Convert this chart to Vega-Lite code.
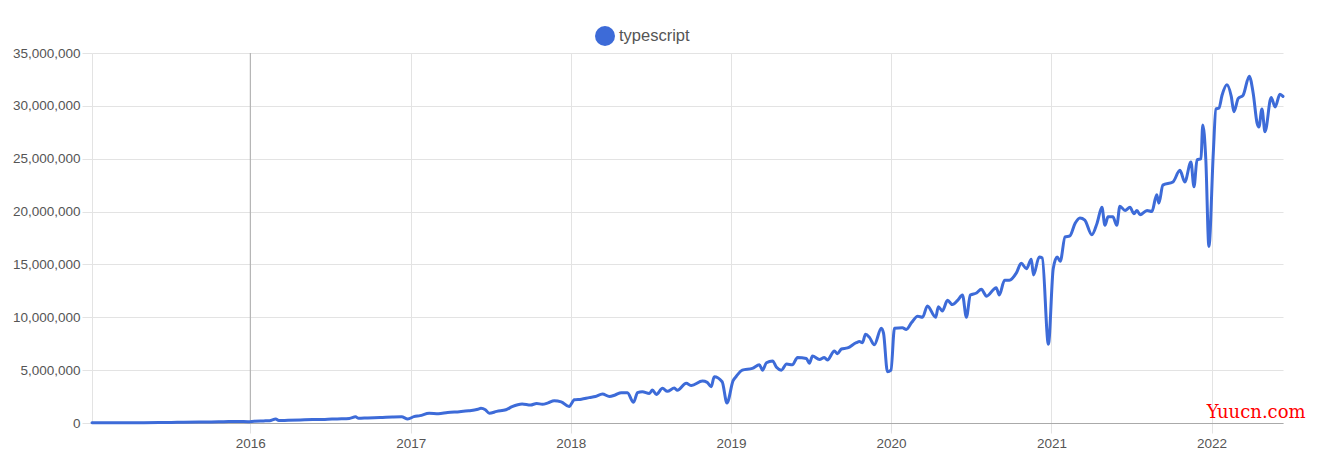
{
  "$schema": "https://vega.github.io/schema/vega-lite/v6.json",
  "width": 1191,
  "height": 370,
  "autosize": {"type": "none"},
  "padding": {"left": 92, "top": 53, "right": 34, "bottom": 43},
  "background": "white",
  "config": {
    "view": {"stroke": null},
    "font": "Liberation Sans"
  },
  "datasets": {
    "downloads": [
      {"date": "2015-01-05", "package": "typescript", "downloads": 15000},
      {"date": "2015-02-01", "package": "typescript", "downloads": 18000},
      {"date": "2015-03-01", "package": "typescript", "downloads": 22000},
      {"date": "2015-04-05", "package": "typescript", "downloads": 28000},
      {"date": "2015-05-03", "package": "typescript", "downloads": 35000},
      {"date": "2015-06-07", "package": "typescript", "downloads": 45000},
      {"date": "2015-07-05", "package": "typescript", "downloads": 55000},
      {"date": "2015-08-02", "package": "typescript", "downloads": 65000},
      {"date": "2015-09-06", "package": "typescript", "downloads": 85000},
      {"date": "2015-10-04", "package": "typescript", "downloads": 105000},
      {"date": "2015-11-01", "package": "typescript", "downloads": 125000},
      {"date": "2015-12-06", "package": "typescript", "downloads": 150000},
      {"date": "2015-12-27", "package": "typescript", "downloads": 130000},
      {"date": "2016-01-10", "package": "typescript", "downloads": 170000},
      {"date": "2016-01-31", "package": "typescript", "downloads": 200000},
      {"date": "2016-02-14", "package": "typescript", "downloads": 220000},
      {"date": "2016-02-28", "package": "typescript", "downloads": 380000},
      {"date": "2016-03-06", "package": "typescript", "downloads": 230000},
      {"date": "2016-03-27", "package": "typescript", "downloads": 260000},
      {"date": "2016-04-24", "package": "typescript", "downloads": 290000},
      {"date": "2016-05-22", "package": "typescript", "downloads": 320000},
      {"date": "2016-06-19", "package": "typescript", "downloads": 340000},
      {"date": "2016-07-17", "package": "typescript", "downloads": 390000},
      {"date": "2016-08-14", "package": "typescript", "downloads": 430000},
      {"date": "2016-08-28", "package": "typescript", "downloads": 580000},
      {"date": "2016-09-04", "package": "typescript", "downloads": 440000},
      {"date": "2016-09-25", "package": "typescript", "downloads": 480000},
      {"date": "2016-10-23", "package": "typescript", "downloads": 510000},
      {"date": "2016-11-20", "package": "typescript", "downloads": 560000},
      {"date": "2016-12-11", "package": "typescript", "downloads": 580000},
      {"date": "2016-12-25", "package": "typescript", "downloads": 380000},
      {"date": "2017-01-08", "package": "typescript", "downloads": 600000},
      {"date": "2017-01-22", "package": "typescript", "downloads": 700000},
      {"date": "2017-02-12", "package": "typescript", "downloads": 920000},
      {"date": "2017-03-05", "package": "typescript", "downloads": 880000},
      {"date": "2017-03-26", "package": "typescript", "downloads": 1000000},
      {"date": "2017-04-22", "package": "typescript", "downloads": 1070000},
      {"date": "2017-05-13", "package": "typescript", "downloads": 1150000},
      {"date": "2017-06-03", "package": "typescript", "downloads": 1300000},
      {"date": "2017-06-10", "package": "typescript", "downloads": 1390000},
      {"date": "2017-06-20", "package": "typescript", "downloads": 1250000},
      {"date": "2017-06-29", "package": "typescript", "downloads": 920000},
      {"date": "2017-07-16", "package": "typescript", "downloads": 1100000},
      {"date": "2017-08-06", "package": "typescript", "downloads": 1250000},
      {"date": "2017-08-20", "package": "typescript", "downloads": 1550000},
      {"date": "2017-09-12", "package": "typescript", "downloads": 1800000},
      {"date": "2017-10-01", "package": "typescript", "downloads": 1700000},
      {"date": "2017-10-15", "package": "typescript", "downloads": 1850000},
      {"date": "2017-10-28", "package": "typescript", "downloads": 1770000},
      {"date": "2017-11-10", "package": "typescript", "downloads": 1900000},
      {"date": "2017-11-24", "package": "typescript", "downloads": 2100000},
      {"date": "2017-12-10", "package": "typescript", "downloads": 2000000},
      {"date": "2017-12-28", "package": "typescript", "downloads": 1550000},
      {"date": "2018-01-09", "package": "typescript", "downloads": 2200000},
      {"date": "2018-01-25", "package": "typescript", "downloads": 2250000},
      {"date": "2018-02-12", "package": "typescript", "downloads": 2400000},
      {"date": "2018-02-26", "package": "typescript", "downloads": 2500000},
      {"date": "2018-03-14", "package": "typescript", "downloads": 2740000},
      {"date": "2018-03-30", "package": "typescript", "downloads": 2500000},
      {"date": "2018-04-12", "package": "typescript", "downloads": 2650000},
      {"date": "2018-04-26", "package": "typescript", "downloads": 2870000},
      {"date": "2018-05-10", "package": "typescript", "downloads": 2850000},
      {"date": "2018-05-24", "package": "typescript", "downloads": 1960000},
      {"date": "2018-06-02", "package": "typescript", "downloads": 2870000},
      {"date": "2018-06-13", "package": "typescript", "downloads": 2960000},
      {"date": "2018-06-29", "package": "typescript", "downloads": 2800000},
      {"date": "2018-07-06", "package": "typescript", "downloads": 3120000},
      {"date": "2018-07-15", "package": "typescript", "downloads": 2700000},
      {"date": "2018-07-29", "package": "typescript", "downloads": 3280000},
      {"date": "2018-08-09", "package": "typescript", "downloads": 3000000},
      {"date": "2018-08-25", "package": "typescript", "downloads": 3300000},
      {"date": "2018-09-01", "package": "typescript", "downloads": 3100000},
      {"date": "2018-09-21", "package": "typescript", "downloads": 3750000},
      {"date": "2018-10-03", "package": "typescript", "downloads": 3550000},
      {"date": "2018-10-28", "package": "typescript", "downloads": 3970000},
      {"date": "2018-11-08", "package": "typescript", "downloads": 3850000},
      {"date": "2018-11-17", "package": "typescript", "downloads": 3430000},
      {"date": "2018-11-24", "package": "typescript", "downloads": 4380000},
      {"date": "2018-12-12", "package": "typescript", "downloads": 3900000},
      {"date": "2018-12-23", "package": "typescript", "downloads": 1900000},
      {"date": "2019-01-06", "package": "typescript", "downloads": 4000000},
      {"date": "2019-01-13", "package": "typescript", "downloads": 4400000},
      {"date": "2019-01-27", "package": "typescript", "downloads": 5000000},
      {"date": "2019-02-19", "package": "typescript", "downloads": 5170000},
      {"date": "2019-03-07", "package": "typescript", "downloads": 5500000},
      {"date": "2019-03-14", "package": "typescript", "downloads": 5000000},
      {"date": "2019-03-23", "package": "typescript", "downloads": 5700000},
      {"date": "2019-04-06", "package": "typescript", "downloads": 5870000},
      {"date": "2019-04-15", "package": "typescript", "downloads": 5270000},
      {"date": "2019-04-26", "package": "typescript", "downloads": 5000000},
      {"date": "2019-05-08", "package": "typescript", "downloads": 5580000},
      {"date": "2019-05-21", "package": "typescript", "downloads": 5500000},
      {"date": "2019-06-02", "package": "typescript", "downloads": 6200000},
      {"date": "2019-06-22", "package": "typescript", "downloads": 6100000},
      {"date": "2019-06-29", "package": "typescript", "downloads": 5650000},
      {"date": "2019-07-06", "package": "typescript", "downloads": 6340000},
      {"date": "2019-07-22", "package": "typescript", "downloads": 6000000},
      {"date": "2019-08-02", "package": "typescript", "downloads": 6200000},
      {"date": "2019-08-09", "package": "typescript", "downloads": 5960000},
      {"date": "2019-08-25", "package": "typescript", "downloads": 6800000},
      {"date": "2019-09-01", "package": "typescript", "downloads": 6550000},
      {"date": "2019-09-10", "package": "typescript", "downloads": 7000000},
      {"date": "2019-09-24", "package": "typescript", "downloads": 7100000},
      {"date": "2019-10-14", "package": "typescript", "downloads": 7600000},
      {"date": "2019-10-21", "package": "typescript", "downloads": 7700000},
      {"date": "2019-10-28", "package": "typescript", "downloads": 7600000},
      {"date": "2019-11-04", "package": "typescript", "downloads": 8400000},
      {"date": "2019-11-13", "package": "typescript", "downloads": 8100000},
      {"date": "2019-11-24", "package": "typescript", "downloads": 7400000},
      {"date": "2019-12-10", "package": "typescript", "downloads": 8960000},
      {"date": "2019-12-15", "package": "typescript", "downloads": 8500000},
      {"date": "2019-12-24", "package": "typescript", "downloads": 4850000},
      {"date": "2020-01-01", "package": "typescript", "downloads": 5000000},
      {"date": "2020-01-09", "package": "typescript", "downloads": 8960000},
      {"date": "2020-01-27", "package": "typescript", "downloads": 9000000},
      {"date": "2020-02-05", "package": "typescript", "downloads": 8850000},
      {"date": "2020-02-17", "package": "typescript", "downloads": 9500000},
      {"date": "2020-03-02", "package": "typescript", "downloads": 10100000},
      {"date": "2020-03-13", "package": "typescript", "downloads": 10000000},
      {"date": "2020-03-24", "package": "typescript", "downloads": 11070000},
      {"date": "2020-04-12", "package": "typescript", "downloads": 10000000},
      {"date": "2020-04-18", "package": "typescript", "downloads": 11000000},
      {"date": "2020-04-27", "package": "typescript", "downloads": 10600000},
      {"date": "2020-05-09", "package": "typescript", "downloads": 11600000},
      {"date": "2020-05-20", "package": "typescript", "downloads": 11200000},
      {"date": "2020-06-01", "package": "typescript", "downloads": 11600000},
      {"date": "2020-06-12", "package": "typescript", "downloads": 12100000},
      {"date": "2020-06-21", "package": "typescript", "downloads": 10000000},
      {"date": "2020-06-30", "package": "typescript", "downloads": 12100000},
      {"date": "2020-07-14", "package": "typescript", "downloads": 12300000},
      {"date": "2020-07-25", "package": "typescript", "downloads": 12650000},
      {"date": "2020-08-06", "package": "typescript", "downloads": 12000000},
      {"date": "2020-08-28", "package": "typescript", "downloads": 12800000},
      {"date": "2020-09-04", "package": "typescript", "downloads": 12100000},
      {"date": "2020-09-16", "package": "typescript", "downloads": 13500000},
      {"date": "2020-09-27", "package": "typescript", "downloads": 13500000},
      {"date": "2020-10-13", "package": "typescript", "downloads": 14200000},
      {"date": "2020-10-24", "package": "typescript", "downloads": 15100000},
      {"date": "2020-11-05", "package": "typescript", "downloads": 14600000},
      {"date": "2020-11-16", "package": "typescript", "downloads": 15500000},
      {"date": "2020-11-21", "package": "typescript", "downloads": 14000000},
      {"date": "2020-12-04", "package": "typescript", "downloads": 15700000},
      {"date": "2020-12-11", "package": "typescript", "downloads": 15600000},
      {"date": "2020-12-25", "package": "typescript", "downloads": 7450000},
      {"date": "2021-01-05", "package": "typescript", "downloads": 14600000},
      {"date": "2021-01-14", "package": "typescript", "downloads": 15700000},
      {"date": "2021-01-21", "package": "typescript", "downloads": 15300000},
      {"date": "2021-02-01", "package": "typescript", "downloads": 17600000},
      {"date": "2021-02-12", "package": "typescript", "downloads": 17700000},
      {"date": "2021-02-24", "package": "typescript", "downloads": 18900000},
      {"date": "2021-03-07", "package": "typescript", "downloads": 19400000},
      {"date": "2021-03-18", "package": "typescript", "downloads": 19200000},
      {"date": "2021-04-03", "package": "typescript", "downloads": 17800000},
      {"date": "2021-04-15", "package": "typescript", "downloads": 18900000},
      {"date": "2021-04-26", "package": "typescript", "downloads": 20400000},
      {"date": "2021-05-03", "package": "typescript", "downloads": 18700000},
      {"date": "2021-05-10", "package": "typescript", "downloads": 19500000},
      {"date": "2021-05-21", "package": "typescript", "downloads": 19500000},
      {"date": "2021-05-30", "package": "typescript", "downloads": 18700000},
      {"date": "2021-06-06", "package": "typescript", "downloads": 20500000},
      {"date": "2021-06-18", "package": "typescript", "downloads": 20100000},
      {"date": "2021-06-29", "package": "typescript", "downloads": 20400000},
      {"date": "2021-07-08", "package": "typescript", "downloads": 19800000},
      {"date": "2021-07-15", "package": "typescript", "downloads": 20100000},
      {"date": "2021-07-22", "package": "typescript", "downloads": 19700000},
      {"date": "2021-08-07", "package": "typescript", "downloads": 20100000},
      {"date": "2021-08-18", "package": "typescript", "downloads": 20000000},
      {"date": "2021-08-29", "package": "typescript", "downloads": 21600000},
      {"date": "2021-09-03", "package": "typescript", "downloads": 20800000},
      {"date": "2021-09-12", "package": "typescript", "downloads": 22500000},
      {"date": "2021-10-05", "package": "typescript", "downloads": 22800000},
      {"date": "2021-10-21", "package": "typescript", "downloads": 23900000},
      {"date": "2021-11-01", "package": "typescript", "downloads": 22800000},
      {"date": "2021-11-15", "package": "typescript", "downloads": 24700000},
      {"date": "2021-11-22", "package": "typescript", "downloads": 22350000},
      {"date": "2021-11-29", "package": "typescript", "downloads": 24900000},
      {"date": "2021-12-08", "package": "typescript", "downloads": 25000000},
      {"date": "2021-12-12", "package": "typescript", "downloads": 28200000},
      {"date": "2021-12-19", "package": "typescript", "downloads": 24900000},
      {"date": "2021-12-26", "package": "typescript", "downloads": 16700000},
      {"date": "2022-01-05", "package": "typescript", "downloads": 25500000},
      {"date": "2022-01-11", "package": "typescript", "downloads": 29700000},
      {"date": "2022-01-18", "package": "typescript", "downloads": 29800000},
      {"date": "2022-01-25", "package": "typescript", "downloads": 31000000},
      {"date": "2022-02-05", "package": "typescript", "downloads": 32000000},
      {"date": "2022-02-15", "package": "typescript", "downloads": 30900000},
      {"date": "2022-02-21", "package": "typescript", "downloads": 29450000},
      {"date": "2022-03-03", "package": "typescript", "downloads": 30700000},
      {"date": "2022-03-14", "package": "typescript", "downloads": 31000000},
      {"date": "2022-03-28", "package": "typescript", "downloads": 32800000},
      {"date": "2022-04-06", "package": "typescript", "downloads": 31200000},
      {"date": "2022-04-15", "package": "typescript", "downloads": 28350000},
      {"date": "2022-04-19", "package": "typescript", "downloads": 28000000},
      {"date": "2022-04-26", "package": "typescript", "downloads": 29700000},
      {"date": "2022-05-03", "package": "typescript", "downloads": 27550000},
      {"date": "2022-05-17", "package": "typescript", "downloads": 30800000},
      {"date": "2022-05-26", "package": "typescript", "downloads": 29900000},
      {"date": "2022-06-06", "package": "typescript", "downloads": 31100000},
      {"date": "2022-06-13", "package": "typescript", "downloads": 30900000}
    ]
  },
  "layer": [
    {
      "data": {"values": [{"date": "2016-01-01"}]},
      "mark": {"type": "rule", "color": "#aaaaaa", "strokeWidth": 1},
      "encoding": {
        "x": {"field": "date", "type": "temporal"}
      }
    },
    {
      "data": {"name": "downloads"},
      "mark": {"type": "line", "interpolate": "monotone", "strokeWidth": 3, "strokeJoin": "round", "strokeCap": "round"},
      "encoding": {
        "x": {
          "field": "date",
          "type": "temporal",
          "scale": {"domain": ["2015-01-05", "2022-06-13"]},
          "axis": {
            "title": null,
            "format": "%Y",
            "tickCount": {"interval": "year", "step": 1},
            "grid": true,
            "gridColor": "#e3e3e3",
            "domainColor": "#aaaaaa",
            "tickColor": "#e3e3e3",
            "tickSize": 10,
            "labelPadding": 3,
            "labelFontSize": 13.5,
            "labelColor": "#555555",
            "labelFont": "Liberation Sans"
          }
        },
        "y": {
          "field": "downloads",
          "type": "quantitative",
          "scale": {"domain": [0, 35000000], "nice": false},
          "axis": {
            "title": null,
            "values": [0, 5000000, 10000000, 15000000, 20000000, 25000000, 30000000, 35000000],
            "format": ",.0f",
            "grid": true,
            "gridColor": "#e3e3e3",
            "domainColor": "#e3e3e3",
            "tickColor": "#e3e3e3",
            "tickSize": 10,
            "labelPadding": 2,
            "labelFontSize": 13.5,
            "labelColor": "#555555",
            "labelFont": "Liberation Sans"
          }
        },
        "color": {
          "field": "package",
          "type": "nominal",
          "scale": {"range": ["#3d6bd8"]},
          "legend": {
            "title": null,
            "orient": "none",
            "legendX": 503,
            "legendY": -27,
            "symbolType": "circle",
            "symbolSize": 400,
            "symbolFillColor": "#3d6bd8",
            "symbolStrokeColor": "#3d6bd8",
            "symbolStrokeWidth": 0,
            "labelFontSize": 16.5,
            "labelColor": "#555555",
            "labelFont": "Liberation Sans",
            "labelOffset": 4,
            "padding": 0
          }
        }
      }
    },
    {
      "data": {"values": [{"date": "2021-12-21", "downloads": 473000, "label": "Yuucn.com"}]},
      "mark": {"type": "text", "align": "left", "baseline": "alphabetic", "font": "DejaVu Serif", "fontSize": 18, "color": "#ff0000", "clip": false},
      "encoding": {
        "x": {"field": "date", "type": "temporal"},
        "y": {"field": "downloads", "type": "quantitative"},
        "text": {"field": "label"}
      }
    }
  ]
}
